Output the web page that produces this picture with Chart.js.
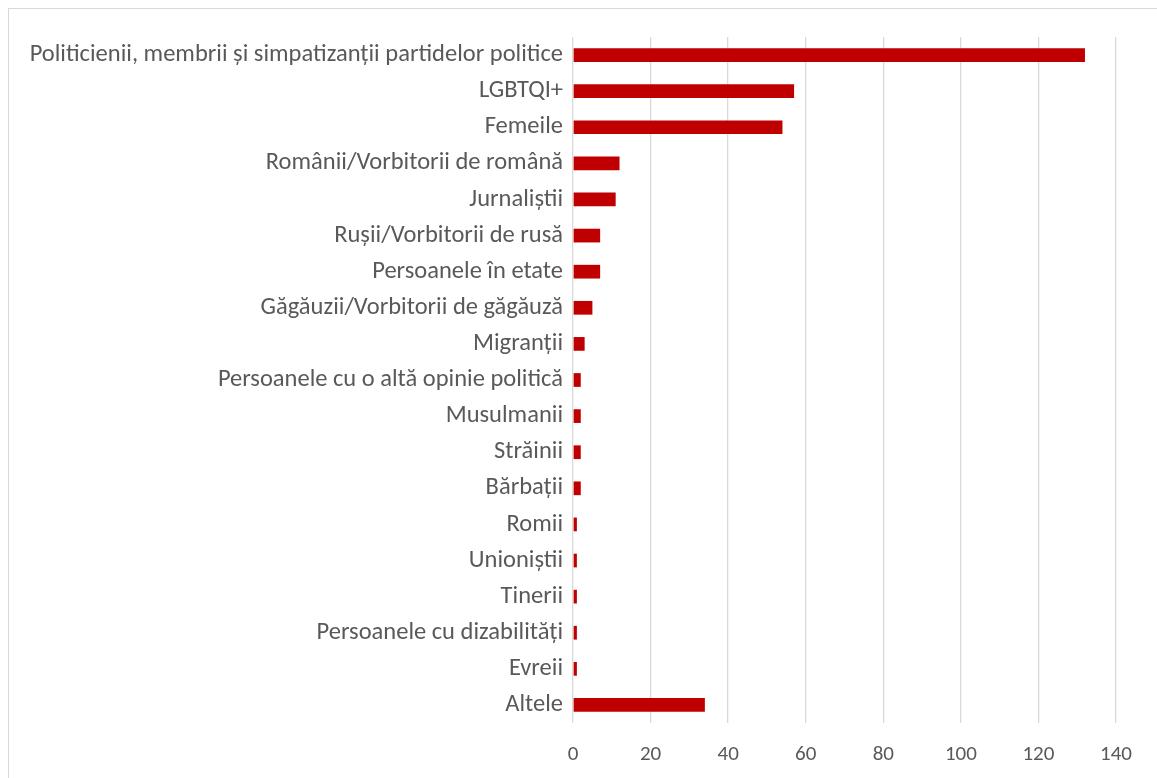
<!DOCTYPE html>
<html>
<head>
<meta charset="utf-8">
<script src="https://cdn.jsdelivr.net/npm/chart.js@4"></script>
<style>
  html, body { margin: 0; padding: 0; background: #fff; }
  #frame { position: absolute; left: 8px; top: 8px; width: 1200px; height: 800px;
           border-left: 1px solid #d9d9d9; border-top: 1px solid #d9d9d9; }
  #chart { position: absolute; left: 0; top: 0; }
</style>
</head>
<body>
<div id="frame"></div>
<canvas id="chart" width="1157" height="778"></canvas>
<script>
// Categories and counts
const categories = [
    'Politicienii, membrii și simpatizanții partidelor politice',
    'LGBTQI+',
    'Femeile',
    'Românii/Vorbitorii de română',
    'Jurnaliștii',
    'Rușii/Vorbitorii de rusă',
    'Persoanele în etate',
    'Găgăuzii/Vorbitorii de găgăuză',
    'Migranții',
    'Persoanele cu o altă opinie politică',
    'Musulmanii',
    'Străinii',
    'Bărbații',
    'Romii',
    'Unioniștii',
    'Tinerii',
    'Persoanele cu dizabilități',
    'Evreii',
    'Altele'
];
const counts = [132, 57, 54, 12, 11, 7, 7, 5, 3, 2, 2, 2, 2, 1, 1, 1, 1, 1, 34];
const xTicks = [0, 20, 40, 60, 80, 100, 120, 140];

const fontFamily = 'Carlito, Calibri, Lato, sans-serif';
const textColor = '#595959';
const gridColor = '#d9d9d9';

const ctx = document.getElementById('chart').getContext('2d');
new Chart(ctx, {
    type: 'bar',
    data: {
        labels: categories,
        datasets: [{
            data: counts,
            backgroundColor: '#c00000',
            barPercentage: 0.38,
            categoryPercentage: 1
        }]
    },
    options: {
        indexAxis: 'y',
        responsive: false,
        animation: false,
        layout: { padding: { top: 37, right: 41, bottom: 0, left: 0 } },
        plugins: { legend: { display: false }, tooltip: { enabled: false } },
        scales: {
            x: {
                min: 0,
                max: 140,
                afterBuildTicks: axis => { axis.ticks = xTicks.map(v => ({ value: v })); },
                afterFit: axis => { axis.height = 55; },
                grid: { color: gridColor, lineWidth: 1.3, drawTicks: false },
                border: { display: false },
                ticks: { padding: 19, color: textColor, font: { family: fontFamily, size: 21 } }
            },
            y: {
                afterFit: axis => { axis.width = 573; },
                grid: { display: false, drawTicks: false },
                border: { display: false },
                ticks: { padding: 10, color: textColor, font: { family: fontFamily, size: 24.5 } }
            }
        }
    }
});
</script>
</body>
</html>
